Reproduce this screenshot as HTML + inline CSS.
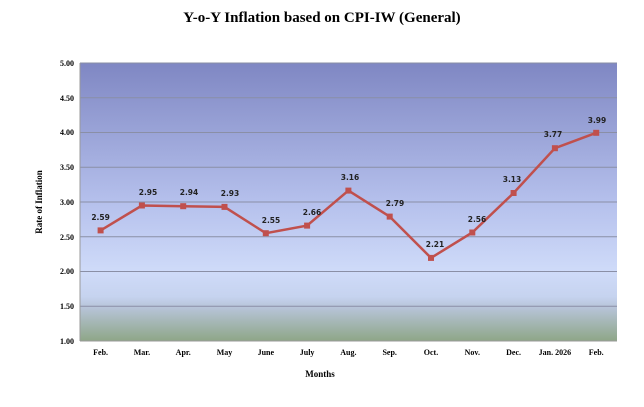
<!DOCTYPE html>
<html><head><meta charset="utf-8"><style>
body{margin:0;background:#fff;width:644px;height:402px;overflow:hidden}
</style></head><body>
<svg width="644" height="402" xmlns="http://www.w3.org/2000/svg">
<defs>
<linearGradient id="g" x1="0" y1="0" x2="0" y2="1">
<stop offset="0" stop-color="#7f87c3"/>
<stop offset="0.5" stop-color="#b5c0ec"/>
<stop offset="0.75" stop-color="#cfdbf9"/>
<stop offset="0.84" stop-color="#c6d3ef"/>
<stop offset="0.88" stop-color="#b7c4d8"/>
<stop offset="1" stop-color="#8ea687"/>
</linearGradient>
</defs>
<text x="322" y="22" text-anchor="middle" font-family="Liberation Serif" font-weight="bold" font-size="15">Y-o-Y Inflation based on CPI-IW (General)</text>
<rect x="80" y="63" width="537" height="278" fill="url(#g)"/>
<g stroke="#8a8fa6" stroke-width="1">
<line x1="80" x2="617" y1="97.75" y2="97.75"/>
<line x1="80" x2="617" y1="132.5" y2="132.5"/>
<line x1="80" x2="617" y1="167.25" y2="167.25"/>
<line x1="80" x2="617" y1="202" y2="202"/>
<line x1="80" x2="617" y1="236.75" y2="236.75"/>
<line x1="80" x2="617" y1="271.5" y2="271.5"/>
<line x1="80" x2="617" y1="306.25" y2="306.25"/>
<line x1="80" x2="617" y1="63" y2="63"/>
</g>
<line x1="80" x2="80" y1="63" y2="341" stroke="#999"/>
<line x1="80" x2="617" y1="341" y2="341" stroke="#999"/>
<g font-family="Liberation Serif" font-weight="bold" font-size="8" text-anchor="end">
<text x="74" y="66">5.00</text><text x="74" y="101">4.50</text><text x="74" y="135">4.00</text><text x="74" y="170">3.50</text><text x="74" y="205">3.00</text><text x="74" y="240">2.50</text><text x="74" y="274">2.00</text><text x="74" y="309">1.50</text><text x="74" y="344">1.00</text>
</g>
<g font-family="Liberation Serif" font-weight="bold" font-size="8" text-anchor="middle">
<text x="100.6" y="355">Feb.</text><text x="141.9" y="355">Mar.</text><text x="183.2" y="355">Apr.</text><text x="224.5" y="355">May</text><text x="265.8" y="355">June</text><text x="307.1" y="355">July</text><text x="348.4" y="355">Aug.</text><text x="389.7" y="355">Sep.</text><text x="431" y="355">Oct.</text><text x="472.3" y="355">Nov.</text><text x="513.6" y="355">Dec.</text><text x="554.9" y="355">Jan. 2026</text><text x="596.2" y="355">Feb.</text>
<text x="320" y="377" font-size="9">Months</text>
<text transform="translate(42,202) rotate(-90)" font-size="9">Rate of Inflation</text>
</g>
<polyline fill="none" stroke="#c0504d" stroke-width="2.5" points="100.6,230.4 141.9,205.5 183.2,206.2 224.5,206.9 265.8,233.2 307.1,225.6 348.4,190.6 389.7,216.6 431,257.9 472.3,232.5 513.6,193.0 554.9,148.2 596.2,132.8"/>
<g fill="#c0504d">
<rect x="97.6" y="227.4" width="6" height="6"/><rect x="138.9" y="202.5" width="6" height="6"/><rect x="180.2" y="203.2" width="6" height="6"/><rect x="221.5" y="203.9" width="6" height="6"/><rect x="262.8" y="230.2" width="6" height="6"/><rect x="304.1" y="222.6" width="6" height="6"/><rect x="345.4" y="187.6" width="6" height="6"/><rect x="386.7" y="213.6" width="6" height="6"/><rect x="428" y="254.9" width="6" height="6"/><rect x="469.3" y="229.5" width="6" height="6"/><rect x="510.6" y="190" width="6" height="6"/><rect x="551.9" y="145.2" width="6" height="6"/><rect x="593.2" y="129.8" width="6" height="6"/>
</g>
<g font-family="DejaVu Sans" font-weight="bold" font-size="7.5" text-anchor="middle" fill="#222">
<text x="100.6" y="220">2.59</text><text x="148" y="195">2.95</text><text x="189" y="195">2.94</text><text x="230" y="196">2.93</text><text x="271" y="223">2.55</text><text x="312" y="215">2.66</text><text x="350" y="180">3.16</text><text x="395" y="206">2.79</text><text x="435" y="247">2.21</text><text x="477" y="222">2.56</text><text x="512" y="182">3.13</text><text x="553" y="137">3.77</text><text x="597" y="123">3.99</text>
</g>
</svg>
</body></html>
